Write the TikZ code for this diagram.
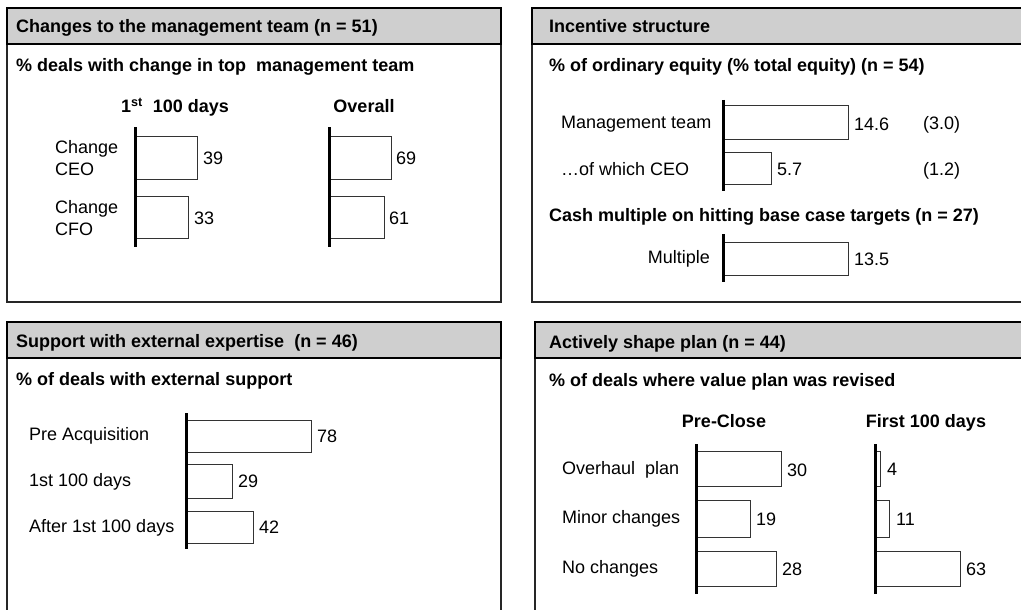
\documentclass[tikz,border=0pt]{standalone}
\usepackage{fontspec}
\setmainfont{Liberation Sans}
\begin{document}
\begin{tikzpicture}[x=1pt,y=-1pt,
  every node/.style={inner sep=0pt,font=\fontsize{18}{21.5}\selectfont},
  panel/.style={draw=black!85,line width=1.3pt},
  header/.style={draw=black,fill=black!19,line width=1.3pt},
  ttl/.style={anchor=base west,font=\fontsize{18}{21.5}\selectfont\bfseries},
  colh/.style={anchor=base,font=\fontsize{18}{21.5}\selectfont\bfseries},
  bar/.style={draw=black!80,line width=1pt,fill=white},
  axis/.style={line width=3pt,black},
  val/.style={anchor=west},
  lbl/.style={anchor=west,align=left}]
\useasboundingbox (0,0) rectangle (1021,610);
\clip (0,0) rectangle (1021,610);
% ---------- panel frames ----------
\draw[panel] (7,8) rectangle (501,302);
\draw[header] (7,8) rectangle (501,44);
\draw[panel] (532,8) rectangle (1030,302);
\draw[header] (532,8) rectangle (1030,44);
\draw[panel] (7,322) rectangle (501,620);
\draw[header] (7,322) rectangle (501,358);
\draw[panel] (535,322) rectangle (1030,620);
\draw[header] (535,322) rectangle (1030,358);
% ---------- panel 1 ----------
\node[ttl] (t1) at (16,33) {Changes to the management team (n = 51)};
\node[ttl] (s1) at (16,72) {\% deals with change in top\ \ management team};
\node[colh] (h11) at (175,113) {1\textsuperscript{st}\ \ 100 days};
\node[colh] (h12) at (364,113) {Overall};
\node[lbl] (l11) at (55,158) {Change\\CEO};
\node[lbl] (l12) at (55,218) {Change\\CFO};
\draw[bar] (135,136) rectangle (197,179);
\draw[bar] (135,196) rectangle (188,238);
\draw[axis] (135,127) -- (135,247);
\node[val] (v11) at (203,158) {39};
\node[val] (v12) at (194,218) {33};
\draw[bar] (329,136) rectangle (391,179);
\draw[bar] (329,196) rectangle (384,238);
\draw[axis] (329,127) -- (329,247);
\node[val] (v13) at (396,158) {69};
\node[val] (v14) at (389,218) {61};
% ---------- panel 2 ----------
\node[ttl] (t2) at (549,33) {Incentive structure};
\node[ttl] (s2) at (549,72) {\% of ordinary equity (\% total equity) (n = 54)};
\node[lbl] (l21) at (561,124) {Management team};
\node[lbl] (l22) at (561,169) {\ldots of which CEO};
\draw[bar] (723,106) rectangle (848,139);
\draw[bar] (723,152) rectangle (771,184);
\draw[axis] (723,100) -- (723,191);
\node[val] (v21) at (854,124) {14.6};
\node[val] (v22) at (777,169) {5.7};
\node[val] (p21) at (923,125) {(3.0)};
\node[val] (p22) at (923,171) {(1.2)};
\node[ttl] (s3) at (549,221) {Cash multiple on hitting base case targets (n = 27)};
\node[anchor=east] (l23) at (710,259) {Multiple};
\draw[bar] (723,242) rectangle (848,275);
\draw[axis] (723,234) -- (723,282);
\node[val] (v23) at (854,259) {13.5};
% ---------- panel 3 ----------
\node[ttl] (t3) at (16,347) {Support with external expertise\ \ (n = 46)};
\node[ttl] (s4) at (16,385) {\% of deals with external support};
\node[lbl] (l31) at (29,436) {Pre Acquisition};
\node[lbl] (l32) at (29,482) {1st 100 days};
\node[lbl] (l33) at (29,528) {After 1st 100 days};
\draw[bar] (186,420) rectangle (311,452);
\draw[bar] (186,464) rectangle (232,498);
\draw[bar] (186,511) rectangle (253,543);
\draw[axis] (186,413) -- (186,549);
\node[val] (v31) at (317,436) {78};
\node[val] (v32) at (238,481) {29};
\node[val] (v33) at (259,527) {42};
% ---------- panel 4 ----------
\node[ttl] (t4) at (549,348) {Actively shape plan (n = 44)};
\node[ttl] (s5) at (549,386) {\% of deals where value plan was revised};
\node[colh] (h41) at (724,427) {Pre-Close};
\node[colh] (h42) at (926,427) {First 100 days};
\node[lbl] (l41) at (562,470) {Overhaul\ \ plan};
\node[lbl] (l42) at (562,519) {Minor changes};
\node[lbl] (l43) at (562,569) {No changes};
\draw[bar] (696,451) rectangle (781,486);
\draw[bar] (696,500) rectangle (750,537);
\draw[bar] (696,551) rectangle (776,586);
\draw[axis] (696,444) -- (696,594);
\node[val] (v41) at (787,470) {30};
\node[val] (v42) at (756,519) {19};
\node[val] (v43) at (782,569) {28};
\draw[bar] (875,451) rectangle (880,486);
\draw[bar] (875,500) rectangle (889,537);
\draw[bar] (875,551) rectangle (960,586);
\draw[axis] (875,444) -- (875,594);
\node[val] (v44) at (887,469) {4};
\node[val] (v45) at (896,519) {11};
\node[val] (v46) at (966,569) {63};
\end{tikzpicture}
\end{document}
